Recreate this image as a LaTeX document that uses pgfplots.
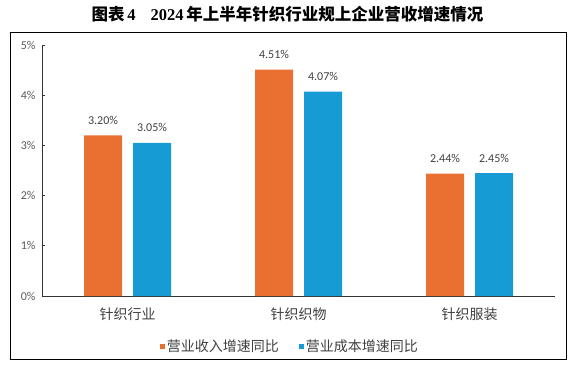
\documentclass[border=0pt]{standalone}
\usepackage{pgfplots}
\pgfplotsset{compat=1.18}
\usepackage{fontspec}
\setmainfont{Carlito}
\newfontfamily\cjk{Noto Sans CJK SC}
\newfontfamily\tnr{Liberation Serif}
\definecolor{corange}{RGB}{233,112,48}
\definecolor{cblue}{RGB}{22,155,213}
\definecolor{tgray}{RGB}{64,64,64}
\definecolor{lgray}{RGB}{89,89,89}
\begin{document}
\begin{tikzpicture}
\useasboundingbox (-42pt,-69pt) rectangle (535pt,296pt);
\draw[black, line width=0.8pt] (-32pt,-63pt) rectangle (524pt,264pt);
\node[inner sep=0pt] at (245.5pt,282pt) {\fontsize{16.5}{17}\selectfont{\cjk\bfseries 图表}\,{\tnr\bfseries 4}\hspace{0.9em}{\tnr\bfseries 2024}\,{\cjk\bfseries 年上半年针织行业规上企业营收增速情况}};
\begin{axis}[
  at={(0pt,0pt)}, anchor=south west,
  scale only axis, width=513pt, height=251pt,
  xmin=-0.5, xmax=2.5, ymin=0, ymax=5,
  axis x line*=bottom, axis y line*=left,
  axis line style={draw=black!80, line width=0.8pt},
  xtick={0,1,2},
  xticklabels={针织行业,针织织物,针织服装},
  xticklabel style={font=\cjk\fontsize{14}{15}\selectfont, text=tgray, yshift=-5pt},
  major x tick style={draw=none},
  ytick={0,1,2,3,4,5},
  yticklabel={\pgfmathprintnumber{\tick}\%},
  yticklabel style={font=\fontsize{12}{13}\selectfont, text=lgray, xshift=-3pt},
  /pgf/number format/assume math mode=true,
  tick align=inside, major tick length=3pt,
  major y tick style={draw=black!80, line width=0.8pt},
  ybar, bar width=38pt,
  nodes near coords={\pgfmathprintnumber[fixed,zerofill,precision=2]{\pgfplotspointmeta}\%},
  every node near coord/.append style={font=\fontsize{12}{13}\selectfont, text=tgray, anchor=base, yshift=11pt, inner sep=0pt},
  legend style={at={(axis description cs:0.4834,-0.1992)}, anchor=center, draw=none, fill=none,
    font=\cjk\fontsize{14}{15}\selectfont, text=tgray, inner sep=0pt,
    nodes={inner sep=2pt}, /tikz/every even column/.append style={column sep=18pt}},
  legend columns=2,
]
\addplot[fill=corange, draw=none, bar shift=-24.5pt,
  legend image code/.code={\fill[corange] (0pt,-2.5pt) rectangle (5pt,2.5pt);}]
  coordinates {(0,3.20) (1,4.51) (2,2.44)};
\addplot[fill=cblue, draw=none, bar shift=24.5pt,
  legend image code/.code={\fill[cblue] (0pt,-2.5pt) rectangle (5pt,2.5pt);}]
  coordinates {(0,3.05) (1,4.07) (2,2.45)};
\legend{营业收入增速同比,营业成本增速同比}
\end{axis}
\end{tikzpicture}
\end{document}
